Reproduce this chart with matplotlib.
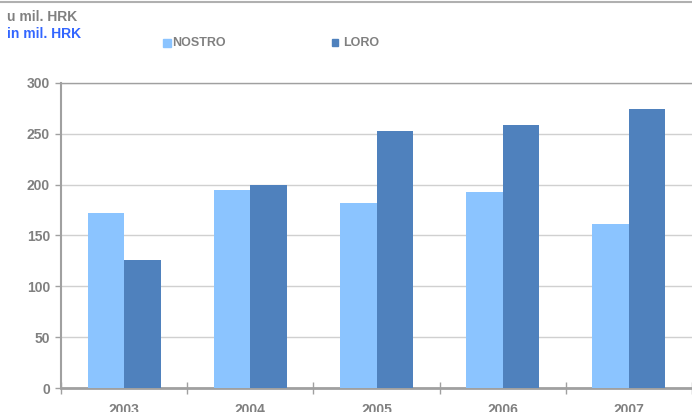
import matplotlib
matplotlib.use("Agg")
import matplotlib.pyplot as plt
import numpy as np
from matplotlib.lines import Line2D
from matplotlib.patches import Rectangle

years = ["2003", "2004", "2005", "2006", "2007"]
nostro = [172, 195, 182, 193, 161]
loro = [126, 200, 253, 259, 274]
series_names = ["NOSTRO", "LORO"]

plt.rcParams['font.family'] = ['Liberation Sans', 'DejaVu Sans']
GRAY = "#808080"
C1 = "#8BC4FF"
C2 = "#4F81BD"

fig = plt.figure(figsize=(6.92, 4.12), dpi=100)
W, H = 692, 412
ax = fig.add_axes([61 / W, 1 - 388 / H, 1 - 61 / W, (388 - 83) / H])

x = np.arange(len(years))
bw = 0.29
ax.bar(x - bw / 2, nostro, width=bw, color=C1, zorder=3)
ax.bar(x + bw / 2, loro, width=bw, color=C2, zorder=3)

ax.set_xlim(-0.5, len(years) - 0.5)
ax.set_ylim(0, 300)
ax.set_yticks(range(0, 301, 50))
ax.yaxis.grid(True, color="#D0D0D0", linewidth=1, zorder=0)
ax.set_axisbelow(True)

ax.set_xticks(np.arange(-0.5, len(years), 1.0))
ax.set_xticklabels([])
ax.set_xticks(x, minor=True)
ax.set_xticklabels(years, minor=True)
ax.tick_params(axis='x', which='major', direction='inout', length=8, color="#A0A0A0", width=1)
ax.tick_params(axis='x', which='minor', length=0, pad=10.5, labelsize=10, labelcolor=GRAY)
ax.tick_params(axis='y', direction='out', length=4, color="#A0A0A0", width=1, labelsize=10,
               labelcolor=GRAY, pad=4)
for lab in ax.get_xticklabels(minor=True) + ax.get_yticklabels():
    lab.set_fontweight('bold')

ax.spines['right'].set_visible(False)
ax.spines['top'].set_color("#A0A0A0")
ax.spines['left'].set_color("#A0A0A0")
ax.spines['bottom'].set_color("#A0A0A0")
ax.spines['left'].set_linewidth(1.5)
ax.spines['bottom'].set_linewidth(2)
ax.spines['top'].set_linewidth(1)

# top border line of figure
fig.add_artist(Line2D([0, 1], [1 - 1.5 / H, 1 - 1.5 / H], color="#B0B0B0", linewidth=1.5))

fig.text(7 / W, 1 - 17 / H, "u mil. HRK", color=GRAY, fontsize=10, fontweight='bold', va='center')
fig.text(7 / W, 1 - 34 / H, "in mil. HRK", color="#3366FF", fontsize=10, fontweight='bold', va='center')

# legend
fig.add_artist(Rectangle((163 / W, 1 - 47 / H), 8 / W, 8 / H, color=C1, transform=fig.transFigure))
fig.text(172 / W, 1 - 43 / H, series_names[0], color=GRAY, fontsize=9, fontweight='bold', va='center')
fig.add_artist(Rectangle((332 / W, 1 - 46 / H), 6 / W, 7 / H, color=C2, transform=fig.transFigure))
fig.text(343 / W, 1 - 43 / H, series_names[1], color=GRAY, fontsize=9, fontweight='bold', va='center')

fig.savefig("out.png", dpi=100)
